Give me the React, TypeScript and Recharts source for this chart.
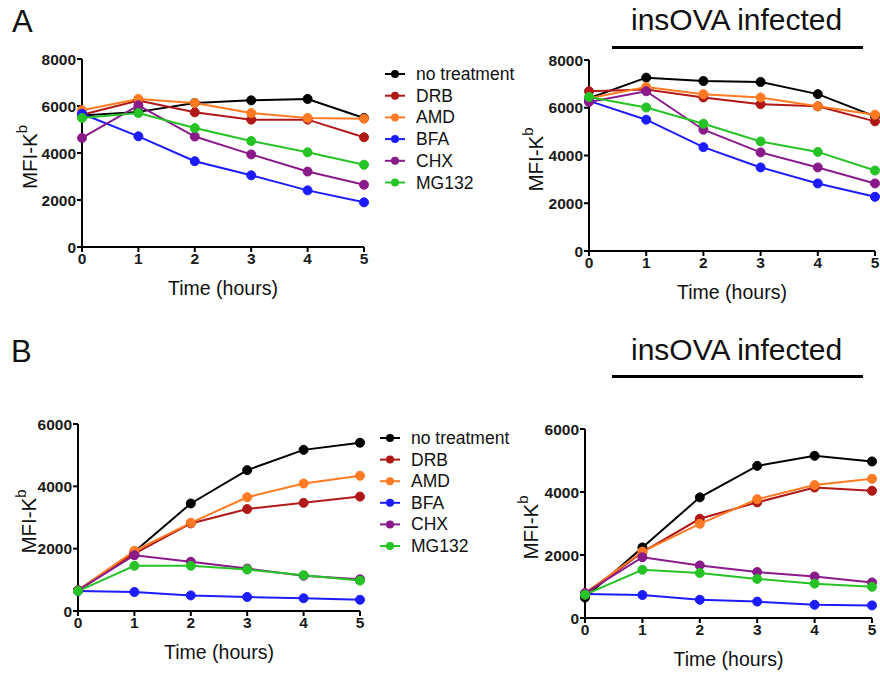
import React from 'react';
import { LineChart, Line, XAxis, YAxis } from 'recharts';

const hours = [0, 1, 2, 3, 4, 5];
const seriesNames = ['no treatment', 'DRB', 'AMD', 'BFA', 'CHX', 'MG132'];
const seriesColors = ['#000000', '#b01818', '#ff7a22', '#1c1cff', '#8a1a8a', '#26c326'];

const ticksA = [0, 2000, 4000, 6000, 8000];
const ticksB = [0, 2000, 4000, 6000];

// Panel A, uninfected
const aNone = [5600, 5750, 6130, 6240, 6300, 5490];
const aDRB = [5630, 6230, 5730, 5420, 5420, 4670];
const aAMD = [5820, 6300, 6130, 5700, 5490, 5460];
const aBFA = [5670, 4710, 3650, 3050, 2410, 1900];
const aCHX = [4640, 6030, 4700, 3940, 3210, 2650];
const aMG = [5490, 5700, 5060, 4510, 4030, 3500];

// Panel A, insOVA infected
const aiNone = [6400, 7260, 7120, 7080, 6570, 5640];
const aiDRB = [6690, 6760, 6430, 6150, 6060, 5430];
const aiAMD = [6400, 6870, 6570, 6430, 6060, 5710];
const aiBFA = [6290, 5500, 4350, 3500, 2830, 2270];
const aiCHX = [6240, 6690, 5080, 4130, 3500, 2830];
const aiMG = [6450, 6010, 5330, 4590, 4150, 3370];

// Panel B, uninfected
const bNone = [660, 1900, 3450, 4520, 5170, 5400];
const bDRB = [660, 1840, 2810, 3270, 3470, 3670];
const bAMD = [660, 1930, 2830, 3650, 4090, 4340];
const bBFA = [640, 610, 500, 450, 410, 360];
const bCHX = [660, 1790, 1580, 1360, 1130, 1020];
const bMG = [640, 1450, 1450, 1330, 1150, 975];

// Panel B, insOVA infected
const biNone = [650, 2240, 3830, 4830, 5150, 4970];
const biDRB = [740, 2090, 3150, 3670, 4140, 4040];
const biAMD = [790, 2110, 2990, 3770, 4220, 4420];
const biBFA = [760, 730, 580, 520, 420, 400];
const biCHX = [790, 1930, 1670, 1460, 1320, 1130];
const biMG = [740, 1530, 1430, 1240, 1090, 990];

const FONT = '"Liberation Sans", Arial, sans-serif';

const buildTable = (series: number[][]) =>
  hours.map((h, i) => {
    const row: Record<string, number> = { hour: h };
    series.forEach((s, k) => {
      row['s' + k] = s[i];
    });
    return row;
  });

const YLabel = (props: any) => {
  const vb = props.viewBox || {};
  const cx = props.lx;
  const cy = vb.y + vb.height / 2 + 4;
  return (
    <text
      x={cx}
      y={cy}
      transform={`rotate(-90 ${cx} ${cy})`}
      textAnchor="middle"
      fontFamily={FONT}
      fontSize={20.5}
      fill="#111"
    >
      MFI-K
      <tspan dy={-10} fontSize={15}>b</tspan>
    </text>
  );
};

type PanelProps = {
  series: number[][];
  left: number;
  top: number;
  width: number;
  height: number;
  margin: { top: number; right: number; bottom: number; left: number };
  yWidth: number;
  ymax: number;
  yticks: number[];
  labelX: number;
};

const Panel = (p: PanelProps) => {
  const data = buildTable(p.series);
  const tickStyle = { fontFamily: FONT, fontSize: 15.5, fontWeight: 700, fill: '#1a1a1a' };
  return (
    <div style={{ position: 'absolute', left: p.left, top: p.top }}>
      <LineChart width={p.width} height={p.height} data={data} margin={p.margin}>
        <XAxis
          dataKey="hour"
          type="number"
          domain={[0, 5]}
          ticks={hours}
          height={50}
          axisLine={{ stroke: '#000', strokeWidth: 2 }}
          tickLine={{ stroke: '#000', strokeWidth: 2 }}
          tickSize={5}
          tickMargin={1}
          tick={tickStyle}
          interval={0}
          label={{
            value: 'Time (hours)',
            position: 'insideBottom',
            offset: 2,
            style: { fontFamily: FONT, fontSize: 19.5, fill: '#111' },
          }}
        />
        <YAxis
          type="number"
          domain={[0, p.ymax]}
          ticks={p.yticks}
          width={p.yWidth}
          axisLine={{ stroke: '#000', strokeWidth: 2 }}
          tickLine={{ stroke: '#000', strokeWidth: 2 }}
          tickSize={5}
          tickMargin={1}
          tick={tickStyle}
          interval={0}
          label={<YLabel lx={p.labelX} />}
        />
        {seriesNames.map((name, k) => (
          <Line
            key={name}
            name={name}
            dataKey={'s' + k}
            stroke={seriesColors[k]}
            strokeWidth={2}
            dot={{ r: 4.5, fill: seriesColors[k], stroke: seriesColors[k], strokeWidth: 1 }}
            isAnimationActive={false}
          />
        ))}
      </LineChart>
    </div>
  );
};

const LegendBox = ({ left, top, spacing }: { left: number; top: number; spacing: number }) => (
  <svg
    style={{ position: 'absolute', left, top }}
    width={150}
    height={spacing * seriesNames.length + 10}
  >
    {seriesNames.map((name, k) => {
      const y = 10 + k * spacing;
      return (
        <g key={name}>
          <line x1={0} x2={20} y1={y} y2={y} stroke={seriesColors[k]} strokeWidth={2} />
          <circle cx={10} cy={y} r={4} fill={seriesColors[k]} />
          <text x={31} y={y + 6} fontFamily={FONT} fontSize={17.5} fill="#111">
            {name}
          </text>
        </g>
      );
    })}
  </svg>
);

const Title = ({ text, left, top, size }: { text: string; left: number; top: number; size: number }) => (
  <div
    style={{
      position: 'absolute',
      left,
      top,
      fontFamily: FONT,
      fontSize: size,
      lineHeight: 1,
      color: '#111',
      whiteSpace: 'nowrap',
    }}
  >
    {text}
  </div>
);

export default function App() {
  return (
    <div
      style={{
        position: 'absolute',
        left: 0,
        top: 0,
        width: 880,
        height: 675,
        background: '#fff',
        overflow: 'hidden',
      }}
    >
      <Title text="A" left={12} top={6} size={31} />
      <Title text="B" left={11} top={336} size={31} />
      <Title text="insOVA infected" left={631} top={5} size={30} />
      <div style={{ position: 'absolute', left: 612, top: 46, width: 251, height: 3, background: '#000' }} />
      <Title text="insOVA infected" left={631} top={335} size={30} />
      <div style={{ position: 'absolute', left: 612, top: 375, width: 251, height: 3, background: '#000' }} />

      <Panel
        series={[aNone, aDRB, aAMD, aBFA, aCHX, aMG]}
        left={0}
        top={0}
        width={380}
        height={310}
        margin={{ top: 59, right: 16, bottom: 13, left: 0 }}
        yWidth={82}
        ymax={8000}
        yticks={ticksA}
        labelX={37}
      />
      <Panel
        series={[aiNone, aiDRB, aiAMD, aiBFA, aiCHX, aiMG]}
        left={500}
        top={0}
        width={380}
        height={310}
        margin={{ top: 60, right: 5, bottom: 9, left: 0 }}
        yWidth={89}
        ymax={8000}
        yticks={ticksA}
        labelX={43}
      />
      <Panel
        series={[bNone, bDRB, bAMD, bBFA, bCHX, bMG]}
        left={0}
        top={340}
        width={380}
        height={335}
        margin={{ top: 84, right: 20, bottom: 14, left: 0 }}
        yWidth={78}
        ymax={6000}
        yticks={ticksB}
        labelX={36}
      />
      <Panel
        series={[biNone, biDRB, biAMD, biBFA, biCHX, biMG]}
        left={500}
        top={340}
        width={380}
        height={335}
        margin={{ top: 89, right: 8, bottom: 7, left: 0 }}
        yWidth={85}
        ymax={6000}
        yticks={ticksB}
        labelX={38}
      />

      <LegendBox left={385} top={64} spacing={21.7} />
      <LegendBox left={380} top={428} spacing={21.6} />
    </div>
  );
}
